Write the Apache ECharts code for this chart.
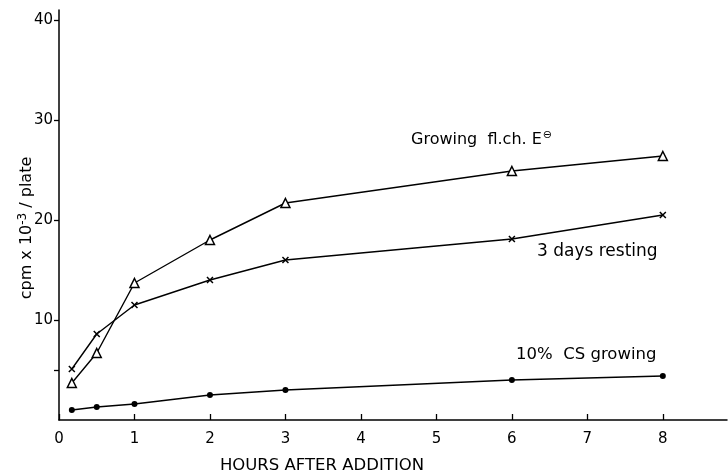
<!DOCTYPE html>
<html><head><meta charset="utf-8">
<script src="https://cdn.jsdelivr.net/npm/echarts@6/dist/echarts.min.js"></script>
<style>html,body{margin:0;padding:0;background:#fff}#c{width:728px;height:473px}</style>
</head><body><div id="c"></div>
<script>
const hours = [0.17, 0.5, 1, 2, 3, 6, 8];
const growingFlch = [3.7, 6.7, 13.7, 18.0, 21.7, 24.9, 26.4];
const resting3d = [5.1, 8.6, 11.5, 14.0, 16.0, 18.1, 20.5];
const csGrowing = [1.0, 1.3, 1.6, 2.5, 3.0, 4.0, 4.4];
const xTicks = [0, 1, 2, 3, 4, 5, 6, 7, 8];
const yTicks = [10, 20, 30, 40];
const yMinorTicks = [5];

const font = '"DejaVu Sans", sans-serif';
const pairs = ys => hours.map((h, i) => [h, ys[i]]);
const chart = echarts.init(document.getElementById('c'));
const lineStyle = { color: '#000', width: 1.4 };
chart.setOption({
  animation: false,
  backgroundColor: '#fff',
  grid: { left: 59, top: 10, width: 668, bottom: 53, outerBoundsMode: 'none', containLabel: false },
  xAxis: {
    type: 'value', min: 0, max: 8.85,
    name: 'HOURS AFTER ADDITION', nameLocation: 'middle', nameGap: 37, nameMoveOverlap: false,
    nameTextStyle: { color: '#000', fontFamily: font, fontSize: 16.5, padding: [0, 0, 0, -142] },
    axisLine: { lineStyle: { color: '#000', width: 1.5 } },
    axisTick: { inside: true, length: 6, customValues: xTicks, lineStyle: { color: '#000', width: 1.3 } },
    axisLabel: { customValues: xTicks, color: '#000', fontFamily: font, fontSize: 15, margin: 12 },
    splitLine: { show: false }
  },
  yAxis: {
    type: 'value', min: 0, max: 41,
    name: '{t|cpm x 10}{s|-3}{t| / plate}', nameLocation: 'middle', nameGap: 22, nameRotate: 90,
    nameMoveOverlap: false,
    nameTextStyle: { color: '#000', fontFamily: font, fontSize: 16, padding: [0, 26, 0, 0],
      rich: { t: { fontFamily: font, fontSize: 16, color: '#000' },
              s: { fontFamily: font, fontSize: 12, color: '#000', verticalAlign: 'top', padding: [0, 0, 8, 0] } } },
    axisLine: { lineStyle: { color: '#000', width: 1.5 } },
    axisTick: { length: 5, customValues: yTicks.concat(yMinorTicks), lineStyle: { color: '#000', width: 1.3 } },
    axisLabel: { customValues: yTicks, color: '#000', fontFamily: font, fontSize: 15, margin: 6 },
    splitLine: { show: false }
  },
  series: [
    { type: 'line', data: pairs(growingFlch), symbol: 'triangle', symbolSize: 9,
      lineStyle, itemStyle: { color: '#fff', borderColor: '#000', borderWidth: 1.5 } },
    { type: 'line', data: pairs(resting3d), symbol: 'path://M0,0L10,10M10,0L0,10', symbolSize: 6,
      lineStyle, itemStyle: { color: '#000', borderColor: '#000', borderWidth: 1.5 } },
    { type: 'line', data: pairs(csGrowing), symbol: 'circle', symbolSize: 6,
      lineStyle, itemStyle: { color: '#000', borderColor: '#000', borderWidth: 0 } }
  ],
  graphic: [
    { type: 'text', left: 411, top: 130, style: { text: '{t|Growing  fl.ch. E}{s|⊖}',
      rich: { t: { fontFamily: font, fontSize: 16, fill: '#000' }, s: { fontFamily: font, fontSize: 11, fill: '#000', verticalAlign: 'top', padding: [0, 0, 9, 1] } } } },
    { type: 'text', left: 537, top: 243, style: { text: '3 days resting', fontFamily: font, fontSize: 17, fill: '#000' } },
    { type: 'text', left: 516, top: 346, style: { text: '10%  CS growing', fontFamily: font, fontSize: 16.5, fill: '#000' } }
  ]
});
</script></body></html>
